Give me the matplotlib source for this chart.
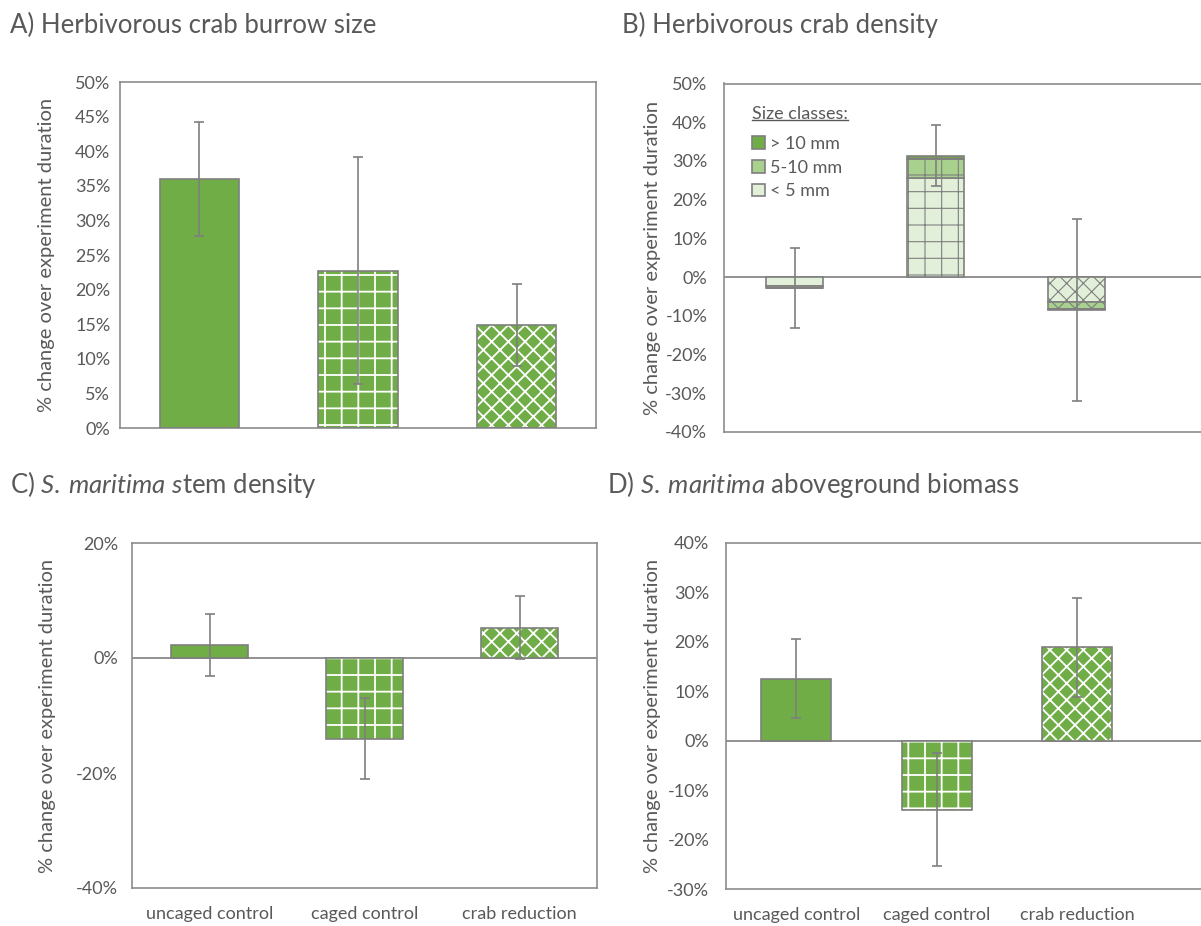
import matplotlib
matplotlib.use("Agg")
import matplotlib.pyplot as plt
import numpy as np
from matplotlib.patches import Patch
from matplotlib.lines import Line2D
from matplotlib.ticker import PercentFormatter, MultipleLocator

plt.rcParams['font.family'] = ['Lato', 'DejaVu Sans']
plt.rcParams['mathtext.fontset'] = 'custom'
plt.rcParams['mathtext.rm'] = 'Lato'
plt.rcParams['mathtext.it'] = 'Lato:italic'
plt.rcParams['axes.unicode_minus'] = False
plt.rcParams['hatch.linewidth'] = 1.3

# ---- data (percent change over experiment duration) ----
treatments = ["uncaged control", "caged control", "crab reduction"]
bar_hatches = ["", "+", "xx"]

burrow_size = [36.0, 22.7, 14.9]
burrow_size_err = [8.2, 16.4, 5.9]

size_classes = ["> 10 mm", "5-10 mm", "< 5 mm"]
density_lt5 = [-2.3, 25.5, -6.4]
density_5to10 = [-0.5, 5.1, -1.8]
density_gt10 = [0.0, 0.8, -0.3]
density_err = [10.3, 7.9, 23.6]

stem_density = [2.2, -14.0, 5.3]
stem_density_err = [5.4, 7.0, 5.4]

biomass = [12.5, -14.0, 18.9]
biomass_err = [8.0, 11.4, 10.0]

# ---- style ----
GREEN = "#70AD47"
MID = "#A9D18E"
LIGHT = "#E2F0D9"
EDGE = "#7F7F7F"
TEXT = "#595959"
SPINE = "#8C8C8C"

W, H = 1201, 926
fig = plt.figure(figsize=(W / 100, H / 100), dpi=100)


def frame(ax, ylim, step, pad, xslots=3):
    ax.set_xlim(-0.5, xslots - 0.5)
    ax.set_ylim(*ylim)
    ax.yaxis.set_major_locator(MultipleLocator(step))
    ax.yaxis.set_major_formatter(PercentFormatter(decimals=0))
    for s in ax.spines.values():
        s.set_color(SPINE)
        s.set_linewidth(1.2)
    ax.tick_params(axis='both', length=0, labelsize=13, labelcolor=TEXT)
    ax.tick_params(axis='y', pad=pad)
    ax.set_ylabel("% change over experiment duration", fontsize=14.5, color=TEXT)


def simple_bars(ax, values, errors, width, hatch_color="white"):
    x = np.arange(len(values))
    filled = ax.bar(x, values, width, color=GREEN, edgecolor=hatch_color,
                    linewidth=0, zorder=2)
    for p, h in zip(filled, bar_hatches):
        p.set_hatch(h)
    ax.bar(x, values, width, fill=False, edgecolor=EDGE, linewidth=1.2, zorder=3)
    ax.errorbar(x, values, yerr=errors, fmt='none', ecolor=EDGE,
                elinewidth=1.2, capsize=3.6, capthick=1.2, zorder=4)


def xlabels(ax):
    ax.set_xticks(np.arange(len(treatments)))
    ax.set_xticklabels(treatments)
    ax.tick_params(axis='x', pad=13)


# A) burrow size
axA = fig.add_axes([120 / W, 1 - 428 / H, 476 / W, 346 / H])
frame(axA, (0, 50), 5, 7)
simple_bars(axA, burrow_size, burrow_size_err, 0.5)
axA.set_xticks([])
axA.yaxis.set_label_coords(-0.137, 0.5)

# B) crab density, stacked by size class
axB = fig.add_axes([724 / W, 1 - 432 / H, 564 / W, 348.5 / H])
frame(axB, (-40, 50), 10, 12, xslots=4)
axB.axhline(0, color=EDGE, lw=1.2, zorder=1)
xb = np.arange(len(treatments))
lt5 = np.array(density_lt5)
mid = np.array(density_5to10)
gt10 = np.array(density_gt10)
layers = [(lt5, np.zeros(3), LIGHT), (mid, lt5, MID), (gt10, lt5 + mid, GREEN)]
for vals, base, col in layers:
    bars = axB.bar(xb, vals, 0.4, bottom=base, color=col, edgecolor=EDGE,
                   linewidth=1.2, zorder=2)
    for p, h in zip(bars, bar_hatches):
        p.set_hatch(h)
        if hasattr(p, 'set_hatch_linewidth'):
            p.set_hatch_linewidth(0.8)
total = lt5 + mid + gt10
axB.errorbar(xb, total, yerr=density_err, fmt='none', ecolor=EDGE,
             elinewidth=1.2, capsize=3.6, capthick=1.2, zorder=4)
axB.set_xticks([])
axB.yaxis.set_label_coords(-0.112, 0.5)
handles = [Patch(facecolor=c, edgecolor=EDGE, linewidth=1.2) for c in (GREEN, MID, LIGHT)]
leg = axB.legend(handles, size_classes, title="Size classes:", loc='upper left',
                 bbox_to_anchor=(0.05, 0.935), frameon=False, fontsize=13,
                 title_fontsize=13, handlelength=0.7, handleheight=0.7,
                 handletextpad=0.3, labelspacing=0.42, borderpad=0,
                 borderaxespad=0, alignment='left')
leg._legend_box.sep = 10
for t in leg.get_texts():
    t.set_color(TEXT)
leg.get_title().set_color(TEXT)

# C) stem density
axC = fig.add_axes([132 / W, 1 - 888 / H, 465 / W, 345 / H])
frame(axC, (-40, 20), 20, 10)
axC.axhline(0, color=EDGE, lw=1.2, zorder=1)
simple_bars(axC, stem_density, stem_density_err, 0.5)
xlabels(axC)
axC.yaxis.set_label_coords(-0.163, 0.5)

# D) aboveground biomass
axD = fig.add_axes([726 / W, 1 - 889 / H, 562 / W, 346.3 / H])
frame(axD, (-30, 40), 10, 12, xslots=4)
axD.axhline(0, color=EDGE, lw=1.2, zorder=1)
simple_bars(axD, biomass, biomass_err, 0.5)
xlabels(axD)
axD.yaxis.set_label_coords(-0.115, 0.5)

# panel titles
title_kw = dict(fontsize=18.5, color=TEXT, va='center', ha='left')
fig.text(10 / W, 1 - 25 / H, "A) Herbivorous crab burrow size", **title_kw)
fig.text(622 / W, 1 - 25 / H, "B) Herbivorous crab density", **title_kw)
fig.text(10 / W, 1 - 485 / H,
         r"C) $\mathit{S.\:maritima\ s}$tem density", **title_kw)
fig.text(607 / W, 1 - 485 / H,
         r"D) $\mathit{S.\:maritima}$ aboveground biomass", **title_kw)

# underline the legend heading
fig.canvas.draw()
bb = leg.get_title().get_window_extent().transformed(fig.transFigure.inverted())
fig.add_artist(Line2D([bb.x0, bb.x1], [bb.y0 + 0.002, bb.y0 + 0.002],
                      transform=fig.transFigure, color=TEXT, lw=1.0))

fig.savefig("out.png", dpi=100)
